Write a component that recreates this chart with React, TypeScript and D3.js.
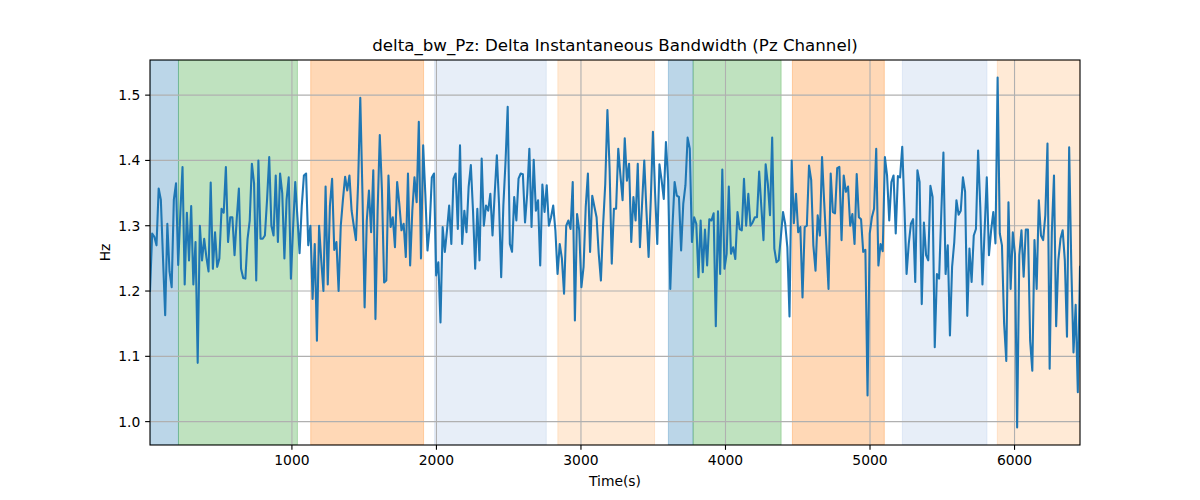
import React from "react"
import * as d3 from "d3"

// sampled signal: first sample time and sample period (s)
const t0 = 18
const period = 15

// delta bandwidth per sample (Hz) left to right
const bandwidth: number[] = [
    1.200, 1.288, 1.283, 1.270, 1.357, 1.340, 1.250, 1.163, 1.303, 1.230, 1.206, 1.340, 1.365, 1.240, 1.320, 1.390,
    1.210, 1.320, 1.247, 1.330, 1.210, 1.275, 1.090, 1.300, 1.247, 1.280, 1.252, 1.230, 1.366, 1.234, 1.290, 1.237,
    1.250, 1.326, 1.320, 1.390, 1.275, 1.313, 1.313, 1.255, 1.310, 1.357, 1.234, 1.220, 1.219, 1.280, 1.308, 1.395,
    1.365, 1.216, 1.400, 1.280, 1.280, 1.285, 1.340, 1.405,
    1.300, 1.285, 1.377, 1.275, 1.380, 1.350, 1.250, 1.340, 1.374, 1.219, 1.297, 1.367, 1.313, 1.258, 1.330, 1.377,
    1.380, 1.270, 1.300, 1.188, 1.272, 1.124, 1.300, 1.247, 1.200, 1.360, 1.210, 1.331, 1.372, 1.263, 1.275, 1.200,
    1.300, 1.340, 1.375, 1.354, 1.377, 1.323, 1.300, 1.278, 1.365, 1.496, 1.350, 1.175, 1.308, 1.354, 1.290, 1.385,
    1.157, 1.323, 1.439, 1.354, 1.213, 1.216, 1.377,
    1.298, 1.313, 1.267, 1.367, 1.334, 1.293, 1.303, 1.252, 1.380, 1.239, 1.323, 1.374, 1.336, 1.459, 1.250, 1.423,
    1.349, 1.262, 1.298, 1.374, 1.380, 1.224, 1.244, 1.152, 1.298, 1.260, 1.293, 1.331, 1.272, 1.372, 1.380, 1.295,
    1.423, 1.272, 1.323, 1.290, 1.360, 1.393, 1.323, 1.234, 1.326, 1.247, 1.403, 1.300, 1.331, 1.323, 1.349, 1.285,
    1.349, 1.408, 1.334, 1.221, 1.331, 1.398, 1.482, 1.272,
    1.260, 1.344, 1.308, 1.372, 1.380, 1.379, 1.305, 1.349, 1.418, 1.298, 1.401, 1.323, 1.339, 1.239, 1.363, 1.321,
    1.362, 1.300, 1.313, 1.331, 1.293, 1.226, 1.272, 1.250, 1.196, 1.300, 1.308, 1.295, 1.367, 1.155, 1.318, 1.293,
    1.206, 1.237, 1.329, 1.380, 1.260, 1.346, 1.329, 1.313, 1.257, 1.216, 1.300, 1.364, 1.477, 1.388, 1.242, 1.326,
    1.326, 1.418, 1.377, 1.339, 1.434, 1.369, 1.395,
    1.275, 1.344, 1.308, 1.395, 1.267, 1.334, 1.400, 1.323, 1.252, 1.339, 1.444, 1.349, 1.272, 1.394, 1.370, 1.341,
    1.428, 1.370, 1.203, 1.298, 1.367, 1.346, 1.344, 1.262, 1.334, 1.362, 1.435, 1.418, 1.275, 1.313, 1.303, 1.221,
    1.308, 1.229, 1.294, 1.239, 1.310, 1.308, 1.319, 1.146, 1.322, 1.226, 1.386, 1.234, 1.257, 1.360, 1.257, 1.267,
    1.249, 1.321, 1.295, 1.293, 1.372,
    1.300, 1.349, 1.300, 1.305, 1.313, 1.313, 1.383, 1.329, 1.278, 1.394, 1.364, 1.316, 1.435, 1.265, 1.244, 1.247,
    1.283, 1.321, 1.303, 1.267, 1.161, 1.400, 1.304, 1.349, 1.290, 1.298, 1.190, 1.298, 1.300, 1.392, 1.370, 1.270,
    1.231, 1.316, 1.285, 1.405, 1.336, 1.270, 1.203, 1.380, 1.321, 1.319, 1.388, 1.390, 1.278, 1.377, 1.352, 1.360,
    1.300, 1.318, 1.272, 1.379, 1.313,
    1.310, 1.260, 1.263, 1.040, 1.288, 1.313, 1.326, 1.418, 1.239, 1.272, 1.261, 1.405, 1.377, 1.308, 1.367, 1.377,
    1.288, 1.376, 1.374, 1.421, 1.329, 1.226, 1.272, 1.303, 1.310, 1.214, 1.385, 1.367, 1.180, 1.305, 1.255, 1.247,
    1.361, 1.344, 1.114, 1.226, 1.219, 1.318, 1.412, 1.226, 1.270, 1.132, 1.237, 1.275, 1.339, 1.317, 1.323, 1.374,
    1.352, 1.162, 1.265, 1.214, 1.285,
    1.295, 1.415, 1.329, 1.210, 1.293, 1.374, 1.255, 1.293, 1.321, 1.273, 1.527, 1.288, 1.270, 1.150, 1.093, 1.336,
    1.203, 1.290, 1.257, 0.991, 1.255, 1.293, 1.222, 1.294, 1.294, 1.124, 1.078, 1.278, 1.203, 1.339, 1.285, 1.278,
    1.316, 1.426, 1.081, 1.290, 1.377, 1.146, 1.247, 1.280, 1.293, 1.247, 1.130, 1.420, 1.237, 1.106, 1.179, 1.045,
    1.237,
]

// shaded stages: start, end (s) and colour
const spanStarts = [18, 215, 1130, 1987, 2840, 3605, 3776, 4463, 5224, 5881]
const spanEnds = [215, 1038, 1911, 2760, 3509, 3776, 4385, 5099, 5809, 6453]
const spanColors = ["#1f77b4", "#2ca02c", "#ff7f0e", "#aec7e8", "#ffbb78", "#1f77b4", "#2ca02c", "#ff7f0e", "#aec7e8", "#ffbb78"]

const xTicks = [1000, 2000, 3000, 4000, 5000, 6000]
const yTicks = [1.0, 1.1, 1.2, 1.3, 1.4, 1.5]

const W = 1200
const H = 500
const margin = { left: 150, right: 120, top: 60, bottom: 55 }
const font = "DejaVu Sans, sans-serif"
const pt = 100 / 72 // matplotlib points -> px at 100 dpi

export default function App() {
    const points: [number, number][] = bandwidth.map((v, i) => [t0 + i * period, v])

    const [xMin, xMax] = d3.extent(points, (d) => d[0]) as [number, number]
    const [yMin, yMax] = d3.extent(points, (d) => d[1]) as [number, number]
    const pad = (yMax - yMin) * 0.05

    const x = d3.scaleLinear().domain([xMin, xMax]).range([margin.left, W - margin.right])
    const y = d3.scaleLinear().domain([yMin - pad, yMax + pad]).range([H - margin.bottom, margin.top])

    const line = d3.line<[number, number]>().x((d) => x(d[0])).y((d) => y(d[1]))

    const left = margin.left
    const right = W - margin.right
    const top = margin.top
    const bottom = H - margin.bottom
    const tickLen = 3.5 * pt
    const labelSize = 10 * pt

    return (
        <svg width={W} height={H} style={{ position: "absolute", left: 0, top: 0, background: "#fff" }} fontFamily={font}>
            <defs>
                <clipPath id="plot">
                    <rect x={left} y={top} width={right - left} height={bottom - top} />
                </clipPath>
            </defs>

            <g clipPath="url(#plot)">
                {spanStarts.map((s, i) => (
                    <rect
                        key={"span" + i}
                        x={x(s)}
                        y={top}
                        width={x(spanEnds[i]) - x(s)}
                        height={bottom - top}
                        fill={spanColors[i]}
                        fillOpacity={0.3}
                        stroke={spanColors[i]}
                        strokeOpacity={0.3}
                        strokeWidth={1}
                    />
                ))}

                {xTicks.map((t) => (
                    <line key={"gx" + t} x1={x(t)} x2={x(t)} y1={top} y2={bottom} stroke="#b0b0b0" strokeWidth={0.8 * pt} />
                ))}
                {yTicks.map((t) => (
                    <line key={"gy" + t} x1={left} x2={right} y1={y(t)} y2={y(t)} stroke="#b0b0b0" strokeWidth={0.8 * pt} />
                ))}

                <path d={line(points) ?? ""} fill="none" stroke="#1f77b4" strokeWidth={1.5 * pt} strokeLinejoin="round" strokeLinecap="square" />
            </g>

            <rect x={left} y={top} width={right - left} height={bottom - top} fill="none" stroke="#000" strokeWidth={0.8 * pt} />

            {xTicks.map((t) => (
                <g key={"tx" + t}>
                    <line x1={x(t)} x2={x(t)} y1={bottom} y2={bottom + tickLen} stroke="#000" strokeWidth={0.8 * pt} />
                    <text x={x(t)} y={bottom + 2 * tickLen + 10.5} textAnchor="middle" fontSize={labelSize}>
                        {t}
                    </text>
                </g>
            ))}
            {yTicks.map((t) => (
                <g key={"ty" + t}>
                    <line x1={left - tickLen} x2={left} y1={y(t)} y2={y(t)} stroke="#000" strokeWidth={0.8 * pt} />
                    <text x={left - 2 * tickLen} y={y(t) + 5} textAnchor="end" fontSize={labelSize}>
                        {t.toFixed(1)}
                    </text>
                </g>
            ))}

            <text x={(left + right) / 2} y={486} textAnchor="middle" fontSize={labelSize}>
                Time(s)
            </text>
            <text transform={`translate(110, ${(top + bottom) / 2}) rotate(-90)`} textAnchor="middle" fontSize={labelSize}>
                Hz
            </text>
            <text x={(left + right) / 2} y={51} textAnchor="middle" fontSize={12 * pt}>
                delta_bw_Pz: Delta Instantaneous Bandwidth (Pz Channel)
            </text>
        </svg>
    )
}
